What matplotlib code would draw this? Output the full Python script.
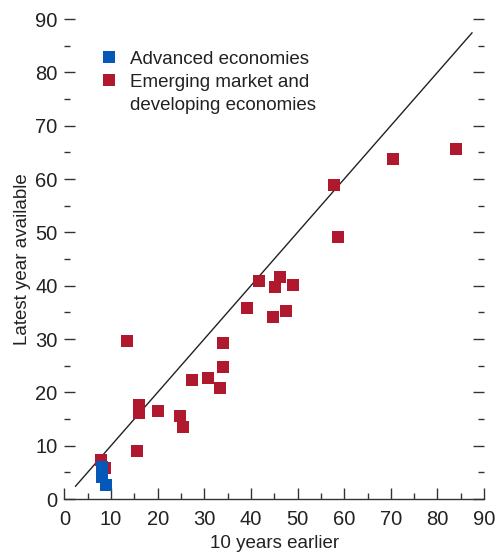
import matplotlib
matplotlib.use("Agg")
import matplotlib.pyplot as plt
from matplotlib.ticker import MultipleLocator
from matplotlib.lines import Line2D

plt.rcParams['font.family'] = ['Liberation Sans Narrow', 'Liberation Sans', 'DejaVu Sans']

# Emerging market and developing economies: (10 years earlier, latest year)
emde_x = [13.4, 7.8, 8.8, 15.9, 15.9, 15.5, 20.0, 24.8, 25.4, 27.3, 30.8, 33.4,
          34.0, 34.0, 39.2, 41.8, 44.8, 45.2, 46.3, 47.6, 49.1, 57.9, 58.6, 70.4, 84.0]
emde_y = [29.7, 7.3, 5.8, 17.7, 16.2, 9.0, 16.5, 15.6, 13.5, 22.4, 22.7, 20.9,
          24.8, 29.3, 35.9, 40.8, 34.2, 39.8, 41.7, 35.2, 40.2, 58.8, 49.2, 63.7, 65.6]

# Advanced economies
adv_x = [8.0, 8.0, 8.0, 8.9]
adv_y = [6.0, 5.0, 4.1, 2.6]

# 45-degree line
line_x = [2.4, 87.4]

red = '#B0182E'
blue = '#0557B8'
ink = '#222222'

fig = plt.figure(figsize=(4.95, 5.56), dpi=100)
ax = fig.add_axes([0.130, 0.1025, 0.848, 0.8633])

ax.plot(line_x, line_x, color=ink, lw=1.0, zorder=1)
ax.scatter(emde_x, emde_y, marker='s', s=64, color=red, linewidths=0, zorder=2)
ax.scatter(adv_x, adv_y, marker='s', s=64, color=blue, linewidths=0, zorder=3)

ax.set_xlim(0, 90)
ax.set_ylim(0, 90)
ax.xaxis.set_major_locator(MultipleLocator(10))
ax.xaxis.set_minor_locator(MultipleLocator(5))
ax.yaxis.set_major_locator(MultipleLocator(10))
ax.yaxis.set_minor_locator(MultipleLocator(5))

for s in ['top', 'left', 'right']:
    ax.spines[s].set_visible(False)
ax.spines['bottom'].set_color('#333333')
ax.spines['bottom'].set_linewidth(1.0)

ax.tick_params(axis='both', which='both', direction='in', color='#333333',
               labelsize=14.5, labelcolor=ink)
ax.tick_params(axis='y', which='both', left=True, right=True)
ax.tick_params(axis='both', which='major', length=8, width=1.0)
ax.tick_params(axis='both', which='minor', length=4, width=1.0)
ax.tick_params(axis='x', which='major', pad=8)
ax.tick_params(axis='y', which='major', pad=5)

ax.set_xlabel('10 years earlier', fontsize=13.5, color=ink, labelpad=4)
ax.set_ylabel('Latest year available', fontsize=13.5, color=ink, labelpad=3)

# second label wraps; blank handle on the continuation line keeps the marker on line one
handles = [Line2D([], [], marker='s', ls='', color=blue, markersize=8, markeredgewidth=0),
           Line2D([], [], marker='s', ls='', color=red, markersize=8, markeredgewidth=0),
           Line2D([], [], ls='', marker='')]
leg = ax.legend(handles, ['Advanced economies', 'Emerging market and', 'developing economies'],
                loc='upper left', bbox_to_anchor=(0.089, 0.934), frameon=False,
                fontsize=13.5, handlelength=0.8, handletextpad=0.73, labelspacing=0.32,
                borderaxespad=0, borderpad=0)
for t in leg.get_texts():
    t.set_color(ink)

fig.savefig('out.png', dpi=100)
